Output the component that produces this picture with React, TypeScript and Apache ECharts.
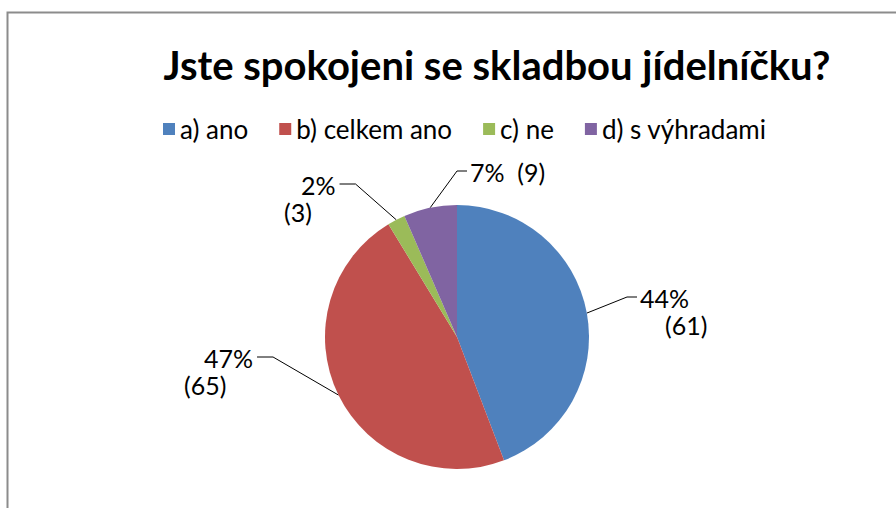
import React, { useEffect, useRef } from "react";
import * as echarts from "echarts";

const titleText = "Jste spokojeni se skladbou jídelníčku?";
const categories = ["a) ano", "b) celkem ano", "c) ne", "d) s výhradami"];
const counts = [61, 65, 3, 9];
const colors = ["#4F81BD", "#C0504D", "#9BBB59", "#8064A2"];

// label layout (top-left anchor of each label block, first-line indent, single-line flag)
const labelAnchors = [
  { x: 640, y: 284, indent0: 0, indent1: 25, oneLine: false },
  { x: 184, y: 344, indent0: 20, indent1: 0, oneLine: false },
  { x: 284, y: 171, indent0: 17, indent1: 0, oneLine: false },
  { x: 470, y: 158, indent0: 0, indent1: 0, oneLine: true },
];

const FONT = "Lato";
const FS = 25;
const LH = 27;

export default function App() {
  const ref = useRef<HTMLDivElement>(null);
  useEffect(() => {
    if (!ref.current) return;
    const chart = echarts.init(ref.current, undefined, { renderer: "svg" });
    const total = counts.reduce((a, b) => a + b, 0);
    const pctText = (i: number) => Math.round((counts[i] / total) * 100) + "%";
    const measure = (s: string) =>
      (echarts as any).format && (echarts as any).format.getTextRect
        ? (echarts as any).format.getTextRect(s, `${FS}px ${FONT}`).width
        : s.length * FS * 0.55;
    chart.setOption({
      animation: false,
      backgroundColor: "#fff",
      title: {
        text: titleText,
        left: 492,
        top: 40,
        textAlign: "center",
        textStyle: { fontFamily: FONT, fontSize: 40, fontWeight: "bold", color: "#000" },
      },
      legend: {
        data: categories,
        left: 158,
        top: 111,
        icon: "rect",
        itemWidth: 12,
        itemHeight: 12,
        itemGap: 31,
        textStyle: { fontFamily: FONT, fontSize: 26, color: "#000" },
      },
      graphic: [
        {
          type: "rect",
          shape: { x: 7.5, y: 12.5, width: 900, height: 520 },
          style: { fill: "none", stroke: "#8c8c8c", lineWidth: 2 },
          silent: true,
        },
      ],
      series: [
        {
          type: "pie",
          center: [457, 337],
          radius: 132,
          startAngle: 90,
          clockwise: true,
          data: categories.map((name, i) => ({
            name,
            value: counts[i],
            itemStyle: { color: colors[i] },
          })),
          label: {
            show: true,
            position: "outside",
            fontFamily: FONT,
            fontSize: FS,
            color: "#000",
            lineHeight: LH,
            formatter: (p: any) => {
              const pct = pctText(p.dataIndex);
              const a = labelAnchors[p.dataIndex];
              if (a.oneLine) return `{s|${pct}  (${p.value})}`;
              return `{l${p.dataIndex}a|${pct}}\n{l${p.dataIndex}b|(${p.value})}`;
            },
            rich: Object.fromEntries(
              labelAnchors
                .flatMap((a, i) => [
                  [`l${i}a`, { fontFamily: FONT, fontSize: FS, lineHeight: LH, color: "#000", padding: [0, 0, 0, a.indent0] }],
                  [`l${i}b`, { fontFamily: FONT, fontSize: FS, lineHeight: LH, color: "#000", padding: [0, 0, 0, a.indent1] }],
                ])
                .concat([["s", { fontFamily: FONT, fontSize: FS, lineHeight: LH, color: "#000" }]])
            ),
          },
          labelLine: {
            show: true,
            length: 20,
            length2: 10,
            lineStyle: { color: "#000", width: 1 },
          },
          labelLayout: (params: any) => {
            const i = params.dataIndex;
            const a = labelAnchors[i];
            const pts = params.labelLinePoints;
            const edge = pts ? pts[0] : [0, 0];
            const midY = a.y + 13;
            let endX: number;
            let kneeX: number;
            if (a.oneLine || edge[0] > 457) {
              endX = a.x + a.indent0 - 3;
              kneeX = endX - 10;
            } else {
              endX = a.x + a.indent0 + measure(pctText(i)) + 4;
              kneeX = endX + 16;
            }
            return {
              x: a.x,
              y: a.y,
              align: "left",
              verticalAlign: "top",
              labelLinePoints: [edge, [kneeX, midY], [endX, midY]],
            };
          },
        },
      ],
    });
    return () => chart.dispose();
  }, []);
  return (
    <div
      ref={ref}
      style={{ position: "fixed", left: 0, top: 0, width: 896, height: 508 }}
    />
  );
}
